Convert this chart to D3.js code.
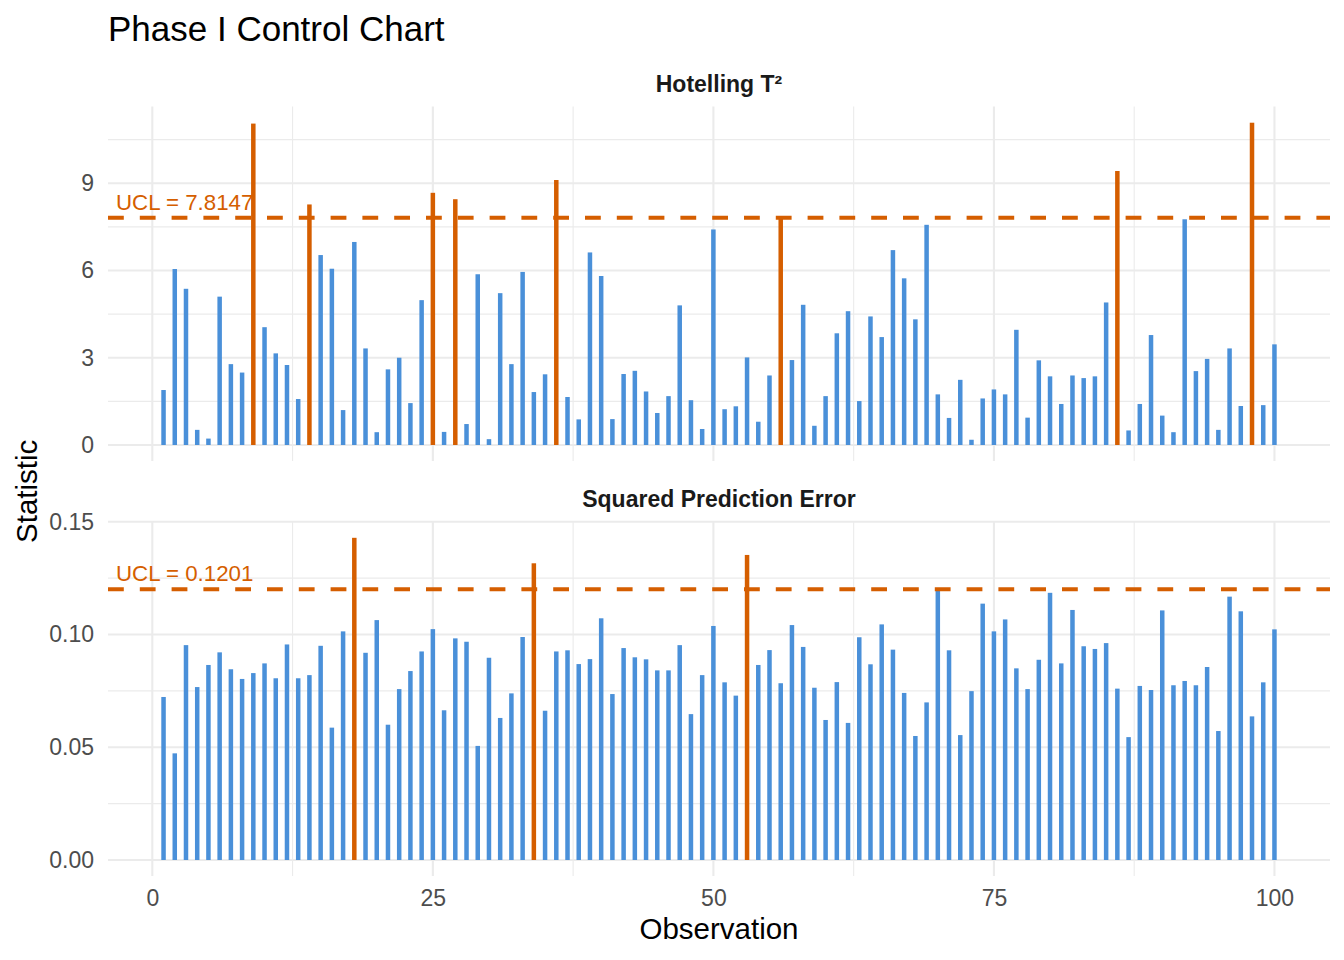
<!DOCTYPE html>
<html><head><meta charset="utf-8">
<script src="https://cdn.jsdelivr.net/npm/d3@7"></script>
<style>body{margin:0;background:#fff} svg{display:block;font-family:"Liberation Sans",Arial,Helvetica,sans-serif}</style>
</head><body><svg id="c" width="1344" height="960"></svg>
<script>
// ---- data ----
const t2Values = [1.89, 6.05, 5.37, 0.52, 0.22, 5.10, 2.78, 2.49, 11.05, 4.05,
 3.15, 2.75, 1.58, 8.27, 6.53, 6.06, 1.20, 6.98, 3.32, 0.44,
 2.60, 3.00, 1.44, 4.98, 8.67, 0.45, 8.45, 0.72, 5.87, 0.20,
 5.22, 2.78, 5.95, 1.82, 2.43, 9.11, 1.65, 0.88, 6.62, 5.81,
 0.89, 2.44, 2.55, 1.84, 1.10, 1.68, 4.80, 1.54, 0.55, 7.41,
 1.23, 1.33, 3.01, 0.80, 2.39, 7.83, 2.92, 4.82, 0.66, 1.68,
 3.84, 4.60, 1.51, 4.42, 3.71, 6.70, 5.73, 4.32, 7.57, 1.74,
 0.93, 2.24, 0.18, 1.60, 1.91, 1.74, 3.96, 0.94, 2.91, 2.36,
 1.41, 2.39, 2.30, 2.36, 4.90, 9.42, 0.50, 1.41, 3.78, 1.01,
 0.44, 7.76, 2.54, 2.96, 0.52, 3.32, 1.34, 11.08, 1.37, 3.46];
const speValues = [0.0723, 0.0473, 0.0953, 0.0767, 0.0865, 0.0921, 0.0846, 0.0803, 0.0829, 0.0872,
 0.0806, 0.0956, 0.0806, 0.0820, 0.0950, 0.0587, 0.1014, 0.1429, 0.0919, 0.1064,
 0.0600, 0.0758, 0.0838, 0.0925, 0.1024, 0.0664, 0.0983, 0.0968, 0.0506, 0.0897,
 0.0630, 0.0739, 0.0989, 0.1316, 0.0662, 0.0925, 0.0930, 0.0869, 0.0891, 0.1072,
 0.0736, 0.0940, 0.0899, 0.0890, 0.0841, 0.0841, 0.0953, 0.0647, 0.0820, 0.1038,
 0.0788, 0.0729, 0.1353, 0.0865, 0.0931, 0.0784, 0.1042, 0.0945, 0.0764, 0.0621,
 0.0789, 0.0608, 0.0988, 0.0868, 0.1045, 0.0933, 0.0741, 0.0550, 0.0699, 0.1196,
 0.0930, 0.0554, 0.0749, 0.1137, 0.1014, 0.1067, 0.0850, 0.0758, 0.0888, 0.1185,
 0.0872, 0.1109, 0.0948, 0.0936, 0.0962, 0.0760, 0.0545, 0.0772, 0.0754, 0.1107,
 0.0775, 0.0794, 0.0775, 0.0856, 0.0572, 0.1168, 0.1103, 0.0637, 0.0788, 0.1023];
const panelTitles = ["Hotelling T\u00B2", "Squared Prediction Error"];
const uclValues = [7.8147, 0.1201];
const uclLabels = ["UCL = 7.8147", "UCL = 0.1201"];
const xTicks = [0, 25, 50, 75, 100];
const t2Ticks = [0, 3, 6, 9];
const speTicks = [0.00, 0.05, 0.10, 0.15];

// ---- layout ----
const W = 1344, H = 960;
const panelLeft = 108, panelRight = 1330;
const panels = [
  {values: t2Values, ticks: t2Ticks, fmt: d3.format("d"), top: 106.6, bottom: 461.1, stripY: 92},
  {values: speValues, ticks: speTicks, fmt: d3.format(".2f"), top: 521.7, bottom: 876.1, stripY: 507}
];
const BLUE = "#4A90D9", ORANGE = "#D55E00", GRID = "#ebebeb";

const svg = d3.select("#c");
svg.append("rect").attr("width", W).attr("height", H).attr("fill", "#fff");

const nObs = t2Values.length;
const obsIdx = t2Values.map((_, i) => i + 1);
const xMin = 1, xMax = nObs, xPad = (xMax - xMin) * 0.05;
const x = d3.scaleLinear().domain([xMin - xPad, xMax + xPad]).range([panelLeft, panelRight]);
const xMinor = xTicks.slice(0, -1).map((t, i) => (t + xTicks[i + 1]) / 2);

panels.forEach((p, pi) => {
  const vmax = d3.max(p.values), vmin = 0;
  const pad = (vmax - vmin) * 0.05;
  const y = d3.scaleLinear().domain([vmin - pad, vmax + pad]).range([p.bottom, p.top]);
  const g = svg.append("g");
  const step = p.ticks[1] - p.ticks[0];
  const yMinor = d3.range(-1, p.ticks.length).map(i => p.ticks[0] + step * i + step / 2)
    .filter(v => v >= y.domain()[0] && v <= y.domain()[1]);

  // minor grid
  g.selectAll(".ymin").data(yMinor).join("line")
    .attr("x1", panelLeft).attr("x2", panelRight)
    .attr("y1", d => y(d)).attr("y2", d => y(d))
    .attr("stroke", GRID).attr("stroke-width", 1.1);
  g.selectAll(".xmin").data(xMinor).join("line")
    .attr("x1", d => x(d)).attr("x2", d => x(d))
    .attr("y1", p.top).attr("y2", p.bottom)
    .attr("stroke", GRID).attr("stroke-width", 1.1);
  // major grid
  g.selectAll(".ymaj").data(p.ticks).join("line")
    .attr("x1", panelLeft).attr("x2", panelRight)
    .attr("y1", d => y(d)).attr("y2", d => y(d))
    .attr("stroke", GRID).attr("stroke-width", 2.1);
  g.selectAll(".xmaj").data(xTicks).join("line")
    .attr("x1", d => x(d)).attr("x2", d => x(d))
    .attr("y1", p.top).attr("y2", p.bottom)
    .attr("stroke", GRID).attr("stroke-width", 2.1);

  // bars
  const ucl = uclValues[pi];
  g.selectAll(".bar").data(p.values).join("rect")
    .attr("x", (d, i) => x(obsIdx[i]) - 2.25)
    .attr("width", 4.5)
    .attr("y", d => y(d))
    .attr("height", d => y(0) - y(d))
    .attr("fill", d => d > ucl ? ORANGE : BLUE);

  // UCL line
  g.append("line")
    .attr("x1", panelLeft).attr("x2", panelRight)
    .attr("y1", y(ucl)).attr("y2", y(ucl))
    .attr("stroke", ORANGE).attr("stroke-width", 4)
    .attr("stroke-dasharray", "15.8 16");
  g.append("text")
    .attr("x", panelLeft + 8).attr("y", y(ucl) - 8)
    .attr("fill", ORANGE).attr("font-size", 22.3)
    .text(uclLabels[pi]);

  // strip title
  svg.append("text")
    .attr("x", (panelLeft + panelRight) / 2).attr("y", p.stripY)
    .attr("text-anchor", "middle").attr("font-weight", "bold")
    .attr("font-size", 23).attr("fill", "#1a1a1a")
    .text(panelTitles[pi]);

  // y axis
  const ya = svg.append("g").attr("transform", `translate(${panelLeft},0)`)
    .call(d3.axisLeft(y).tickValues(p.ticks).tickFormat(p.fmt).tickSize(0).tickPadding(14));
  ya.select(".domain").remove();
  ya.selectAll("text").attr("font-size", 23).attr("fill", "#4d4d4d")
    .attr("font-family", "Liberation Sans, Arial, sans-serif");

  if (pi === panels.length - 1) {
    const xa = svg.append("g").attr("transform", `translate(0,${p.bottom})`)
      .call(d3.axisBottom(x).tickValues(xTicks).tickFormat(d3.format("d")).tickSize(0).tickPadding(14));
    xa.select(".domain").remove();
    xa.selectAll("text").attr("font-size", 23).attr("fill", "#4d4d4d")
      .attr("font-family", "Liberation Sans, Arial, sans-serif");
  }
});

// titles
svg.append("text").attr("x", panelLeft).attr("y", 40.5)
  .attr("font-size", 35).attr("fill", "#000").text("Phase I Control Chart");
svg.append("text").attr("x", (panelLeft + panelRight) / 2).attr("y", 939)
  .attr("text-anchor", "middle").attr("font-size", 29.5).attr("fill", "#000").text("Observation");
svg.append("text").attr("transform", `translate(37,${(106.6 + 876.1) / 2}) rotate(-90)`)
  .attr("text-anchor", "middle").attr("font-size", 29.5).attr("fill", "#000").text("Statistic");
</script></body></html>
